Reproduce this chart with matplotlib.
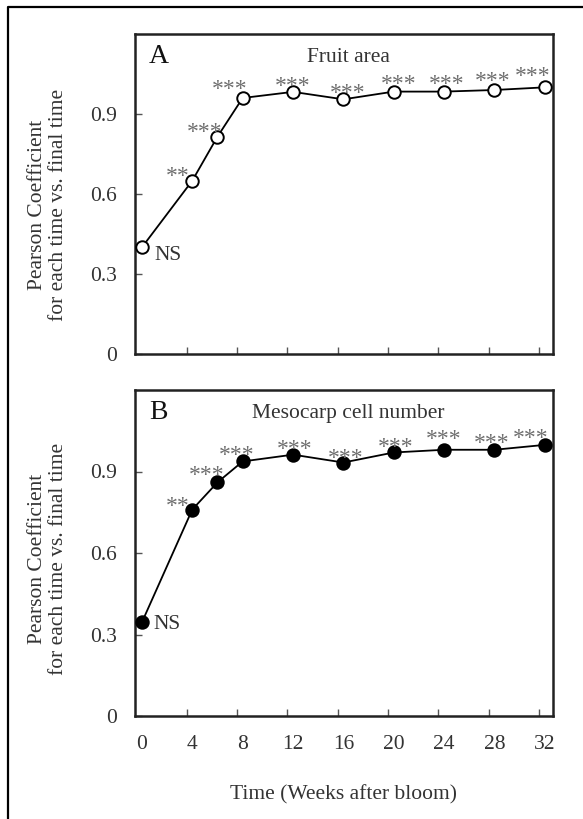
import matplotlib

matplotlib.use("Agg")
import matplotlib.pyplot as plt
from matplotlib.lines import Line2D

# Weeks after bloom
weeks = [0, 4, 6, 8, 12, 16, 20, 24, 28, 32]

# Pearson coefficient of each time vs. final time
fruit_area = [0.40, 0.65, 0.815, 0.96, 0.983, 0.955, 0.984, 0.984, 0.99, 1.0]
cell_number = [0.345, 0.76, 0.86, 0.937, 0.962, 0.933, 0.97, 0.98, 0.98, 0.998]

# Significance labels
fruit_sig = ["NS", "**", "***", "***", "***", "***", "***", "***", "***", "***"]
cell_sig = ["NS", "**", "***", "***", "***", "***", "***", "***", "***", "***"]

x_labels = [0, 4, 8, 12, 16, 20, 24, 28, 32]
y_ticks = [0, 0.3, 0.6, 0.9]
y_ticklabels = ["0", "0.3", "0.6", "0.9"]

plt.rcParams["font.family"] = ["Liberation Serif", "DejaVu Serif"]
TEXT = "#333333"
STAR = "#6e6e6e"

W, H = 583, 819
fig = plt.figure(figsize=(W / 100, H / 100), dpi=100)

# label offsets (pixels) for each point
fruit_off = [(26, -8), (-15, 11), (-13, 11), (-13, 15), (0, 12),
             (4, 12), (5, 14), (3, 14), (-2, 15), (-12, 17)]
cell_off = [(25, -2), (-15, 10), (-11, 13), (-6, 12), (2, 12),
            (2, 11), (2, 11), (0, 17), (-3, 13), (-14, 13)]


def panel(rect, y, sig, offs, face, letter, title, show_x):
    ax = fig.add_axes(rect)
    ax.plot(weeks, y, color="black", lw=1.3, marker="o", ms=9,
            mfc=face, mec="black", mew=1.4, zorder=3, clip_on=False)
    ax.set_xlim(-0.55, 32.65)
    ax.set_ylim(0, 1.2)
    for s in ax.spines.values():
        s.set_linewidth(1.8)
        s.set_color("#222222")

    # tick marks sit half a week left of the labels
    ax.set_xticks([t - 0.45 for t in x_labels[1:]])
    ax.set_xticklabels([])
    ax.tick_params(axis="x", which="major", direction="in", length=5,
                   width=1, color="#555555")
    if show_x:
        ax.set_xticks(x_labels, minor=True)
        ax.set_xticklabels([str(v) for v in x_labels], minor=True)
        ax.tick_params(axis="x", which="minor", length=0, pad=14,
                       labelsize=15.5, labelcolor=TEXT)
    ax.set_yticks(y_ticks)
    ax.set_yticklabels(y_ticklabels)
    ax.tick_params(axis="y", direction="in", length=5, width=1,
                   color="#555555", pad=13, labelsize=15.5, labelcolor=TEXT)

    for xv, yv, s, (dx, dy) in zip(weeks, y, sig, offs):
        if s == "NS":
            ax.annotate(s, (xv, yv), xytext=(dx, dy), textcoords="offset pixels",
                        ha="center", va="center", fontsize=15.5, color=TEXT)
        else:
            ax.annotate(s, (xv, yv), xytext=(dx, dy - 12),
                        textcoords="offset pixels", ha="center",
                        va="baseline", fontsize=17, color=STAR)

    ax.text(0.033, 0.93, letter, transform=ax.transAxes, fontsize=20,
            ha="left", va="center", color="#111111")
    ax.text(0.51, 0.928, title, transform=ax.transAxes, fontsize=15.5,
            ha="center", va="center", color=TEXT)
    return ax


panel([135 / W, 1 - 354 / H, 418 / W, 320 / H], fruit_area, fruit_sig,
      fruit_off, "white", "A", "Fruit area", False)
panel([135 / W, 1 - 716 / H, 418 / W, 326 / H], cell_number, cell_sig,
      cell_off, "black", "B", "Mesocarp cell number", True)

ylab = "Pearson Coefficient\nfor each time vs. final time"
fig.text(48 / W, 1 - 205 / H, ylab, rotation=90, ha="center", va="center",
         fontsize=15.5, color=TEXT, linespacing=1.2)
fig.text(48 / W, 1 - 559 / H, ylab, rotation=90, ha="center", va="center",
         fontsize=15.5, color=TEXT, linespacing=1.2)
fig.text(344 / W, 1 - 795 / H, "Time (Weeks after bloom)", ha="center",
         va="center", fontsize=15.5, color=TEXT)

# outer frame: only its left and top edges fall inside the figure
fig.add_artist(Line2D([8 / W, 8 / W, 1.0], [0.0, 1 - 7 / H, 1 - 7 / H],
                      transform=fig.transFigure, color="black", lw=1.6))

fig.savefig("out.png", dpi=100)
